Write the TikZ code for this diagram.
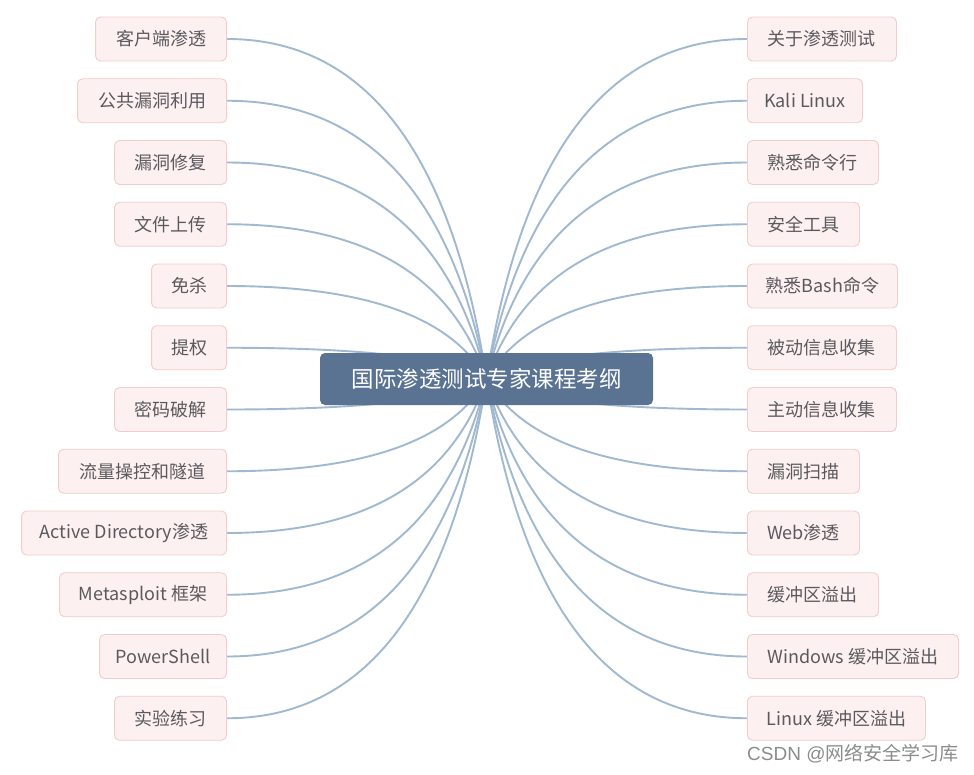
\documentclass[tikz,border=0pt]{standalone}
\usepackage{fontspec}
\setmainfont{Noto Sans CJK SC}[Script=CJK]
\newfontfamily\wmlatin{Liberation Sans}
\usetikzlibrary{backgrounds,calc}
\definecolor{leaffill}{HTML}{FDF0F0}
\definecolor{leafdraw}{HTML}{F2CDCD}
\definecolor{leaftext}{HTML}{5A5A5E}
\definecolor{rootfill}{HTML}{5A7392}
\definecolor{linkcol}{HTML}{A0B9D0}
\definecolor{wmcol}{HTML}{8C8C8C}
\tikzset{
  leaf/.style={draw=leafdraw, line width=0.9pt, fill=leaffill, rounded corners=5pt,
    minimum height=44pt, inner sep=0pt, text=leaftext,
    font=\fontsize{18}{21}\selectfont},
  lleaf/.style={leaf, anchor=east},
  rleaf/.style={leaf, anchor=west},
  rootbox/.style={fill=rootfill, rounded corners=5pt, minimum width=333pt,
    minimum height=52pt, inner sep=0pt, text=white,
    font=\fontsize{22.5}{26}\selectfont},
  link/.style={draw=linkcol, line width=1.9pt},
}
\begin{document}
\begin{tikzpicture}[x=1pt,y=1pt]
\useasboundingbox (0,0) rectangle (974,-774);
\node[rootbox] (root) at (486.5,-379) {国际渗透测试专家课程考纲};
% left leaves
\node[lleaf, minimum width=131pt] (l1) at (227,-39) {客户端渗透};
\node[lleaf, minimum width=149pt] (l2) at (227,-100.75) {公共漏洞利用};
\node[lleaf, minimum width=112pt] (l3) at (227,-162.5) {漏洞修复};
\node[lleaf, minimum width=112pt] (l4) at (227,-224.25) {文件上传};
\node[lleaf, minimum width=75pt] (l5) at (227,-286) {免杀};
\node[lleaf, minimum width=75pt] (l6) at (227,-347.75) {提权};
\node[lleaf, minimum width=112pt] (l7) at (227,-409.5) {密码破解};
\node[lleaf, minimum width=168pt] (l8) at (227,-471.25) {流量操控和隧道};
\node[lleaf, minimum width=205pt] (l9) at (227,-533) {Active Directory渗透};
\node[lleaf, minimum width=167pt] (l10) at (227,-594.75) {Metasploit 框架};
\node[lleaf, minimum width=127pt] (l11) at (227,-656.5) {PowerShell};
\node[lleaf, minimum width=112pt] (l12) at (227,-718.25) {实验练习};
% right leaves
\node[rleaf, minimum width=149pt] (r1) at (747,-39) {关于渗透测试};
\node[rleaf, minimum width=115pt] (r2) at (747,-100.75) {Kali Linux};
\node[rleaf, minimum width=131pt] (r3) at (747,-162.5) {熟悉命令行};
\node[rleaf, minimum width=112pt] (r4) at (747,-224.25) {安全工具};
\node[rleaf, minimum width=150pt] (r5) at (747,-286) {熟悉Bash命令};
\node[rleaf, minimum width=149pt] (r6) at (747,-347.75) {被动信息收集};
\node[rleaf, minimum width=149pt] (r7) at (747,-409.5) {主动信息收集};
\node[rleaf, minimum width=112pt] (r8) at (747,-471.25) {漏洞扫描};
\node[rleaf, minimum width=112pt] (r9) at (747,-533) {Web渗透};
\node[rleaf, minimum width=131pt] (r10) at (747,-594.75) {缓冲区溢出};
\node[rleaf, minimum width=211pt] (r11) at (747,-656.5) {Windows 缓冲区溢出};
\node[rleaf, minimum width=178pt] (r12) at (747,-718.25) {Linux 缓冲区溢出};
% watermark
\node[anchor=west, text=wmcol, font=\fontsize{19}{22}\selectfont, inner sep=0pt] (wm) at (747,-754) {{\wmlatin CSDN @}网络安全学习库};
% connectors (quadratic curves written as cubic)
\begin{scope}[on background layer]
\fill[white] (0,0) rectangle (974,-774);
\foreach \n/\a in {l1/east,l2/east,l3/east,l4/east,l5/east,l6/east,l7/east,l8/east,l9/east,l10/east,l11/east,l12/east,
                   r1/west,r2/west,r3/west,r4/west,r5/west,r6/west,r7/west,r8/west,r9/west,r10/west,r11/west,r12/west}{
  \coordinate (q) at ($(\n.\a)!0.8!(root.center |- \n.\a)$);
  \draw[link] (\n.\a) .. controls ($(\n.\a)!0.6667!(q)$) and ($(root.center)!0.6667!(q)$) .. (root.center);
}
\end{scope}
\end{tikzpicture}
\end{document}
